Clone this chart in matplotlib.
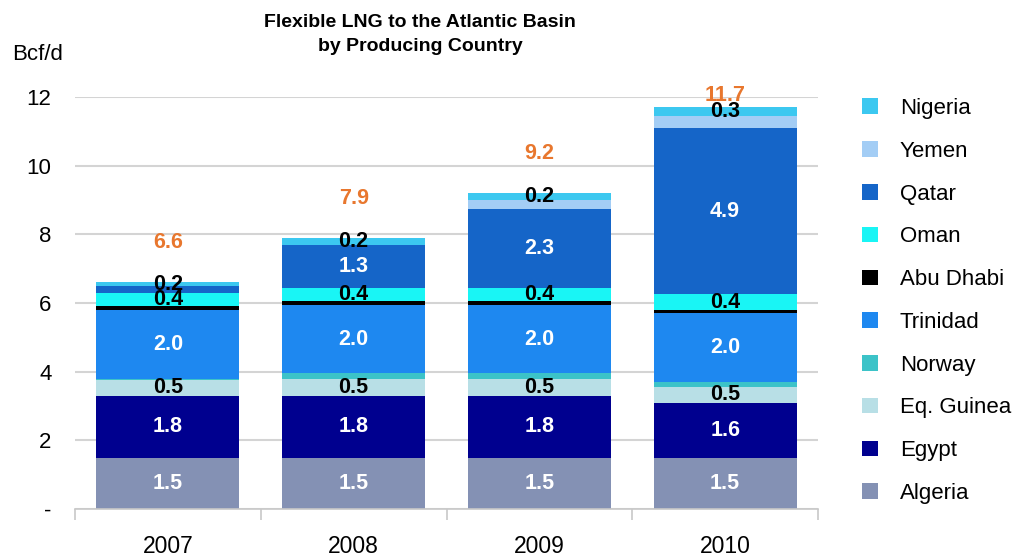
import numpy as np
import matplotlib
matplotlib.use('Agg')
import matplotlib.pyplot as plt
from matplotlib.patches import Patch

plt.rcParams['font.family'] = ['Liberation Sans', 'DejaVu Sans']

# ── data (Bcf/d) ─────────────────────────────────────────────────────────────
years     = ['2007', '2008', '2009', '2010']
algeria   = [1.5, 1.5, 1.5, 1.5]
egypt     = [1.8, 1.8, 1.8, 1.6]
eq_guinea = [0.45, 0.5, 0.5, 0.45]
norway    = [0.05, 0.15, 0.15, 0.15]
trinidad  = [2.0, 2.0, 2.0, 2.0]
abu_dhabi = [0.1, 0.1, 0.1, 0.1]
oman      = [0.4, 0.4, 0.4, 0.45]
qatar     = [0.2, 1.25, 2.3, 4.85]
yemen     = [0.0, 0.0, 0.25, 0.35]
nigeria   = [0.1, 0.2, 0.2, 0.25]
totals    = ['6.6', '7.9', '9.2', '11.7']

lab_algeria  = ['1.5', '1.5', '1.5', '1.5']
lab_egypt    = ['1.8', '1.8', '1.8', '1.6']
lab_eqg      = ['0.5', '0.5', '0.5', '0.5']
lab_trinidad = ['2.0', '2.0', '2.0', '2.0']
lab_oman     = ['0.4', '0.4', '0.4', '0.4']
lab_qatar    = ['', '1.3', '2.3', '4.9']
lab_nigeria  = ['0.2', '0.2', '0.2', '0.3']

# bottom -> top
series = [
    ('Algeria',    algeria,   '#8491b4', lab_algeria,  'white'),
    ('Egypt',      egypt,     '#00008f', lab_egypt,    'white'),
    ('Eq. Guinea', eq_guinea, '#b8dfe6', lab_eqg,      'black'),
    ('Norway',     norway,    '#3cc3c8', None,         None),
    ('Trinidad',   trinidad,  '#1e88f0', lab_trinidad, 'white'),
    ('Abu Dhabi',  abu_dhabi, '#000000', None,         None),
    ('Oman',       oman,      '#19f5f5', lab_oman,     'black'),
    ('Qatar',      qatar,     '#1565c8', lab_qatar,    None),
    ('Yemen',      yemen,     '#a3cdf5', None,         None),
    ('Nigeria',    nigeria,   '#3cc8f0', lab_nigeria,  'black'),
]

fig = plt.figure(figsize=(10.3, 5.59), dpi=100)
ax = fig.add_axes([75/1030, 1-509/559, (818-75)/1030, (509-97)/559])

x = np.arange(len(years))
bottom = np.zeros(len(years))
handles = []
for name, vals, col, labs, tcol in series:
    vals = np.array(vals)
    ax.bar(x, vals, width=0.77, bottom=bottom, color=col, linewidth=0, zorder=2)
    if labs is not None:
        for i, t in enumerate(labs):
            if not t:
                continue
            c = tcol
            if c is None:
                c = 'white' if vals[i] > 0.8 else 'black'
            ax.text(x[i], bottom[i] + vals[i]/2, t, ha='center', va='center',
                    fontsize=15.5, fontweight='bold', color=c, zorder=4)
    bottom = bottom + vals
    handles.append(Patch(facecolor=col, label=name))

# totals
for i, t in enumerate(totals):
    ax.text(x[i], min(bottom[i] + 1.15, 12.05), t, ha='center', va='center',
            fontsize=15.5, fontweight='bold', color='#e8772e', clip_on=False, zorder=4)

ax.set_ylim(0, 12)
ax.set_xlim(-0.5, len(years) - 0.5)
ax.set_yticks(np.arange(0, 13, 2))
ax.set_yticklabels(['-'] + [str(v) for v in range(2, 13, 2)], fontsize=16)
ax.tick_params(axis='y', length=0, pad=17)
ax.yaxis.grid(True, color='#d4d4d4', linewidth=1.5, zorder=0)
ax.set_axisbelow(True)

ax.set_xticks(np.arange(-0.5, len(years), 1.0))
ax.set_xticklabels([])
ax.tick_params(axis='x', which='major', length=8, color='#c8c8c8', width=1.2)
ax.set_xticks(x, minor=True)
ax.set_xticklabels(years, minor=True, fontsize=16.5)
ax.tick_params(axis='x', which='minor', length=0, pad=19)

for s in ['top', 'right', 'left']:
    ax.spines[s].set_visible(False)
ax.spines['bottom'].set_color('#c8c8c8')
ax.spines['bottom'].set_linewidth(1.2)

fig.text(420/1030, 1-34.5/559, 'Flexible LNG to the Atlantic Basin\nby Producing Country',
         ha='center', va='center', fontsize=14, fontweight='bold', linespacing=1.55)
fig.text(12/1030, 1-55/559, 'Bcf/d', ha='left', va='center', fontsize=16)

fig.legend(handles=handles[::-1], loc='upper left', frameon=False,
           bbox_to_anchor=(862/1030, 1-98/559), fontsize=16,
           handlelength=0.7, handleheight=0.7, handletextpad=1.0,
           labelspacing=0.98, borderpad=0, borderaxespad=0)

fig.savefig('out.png', dpi=100)
